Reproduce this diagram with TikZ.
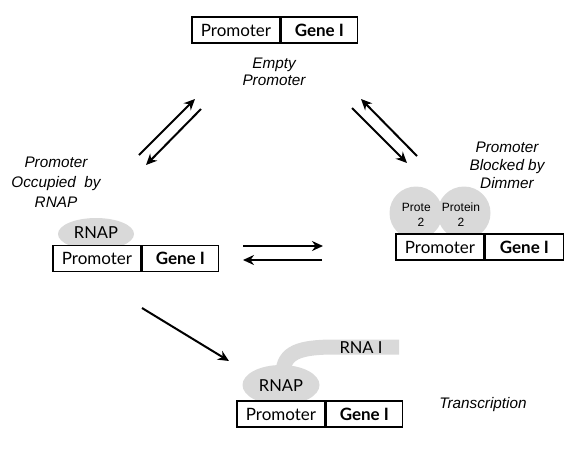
\documentclass[tikz,border=0pt]{standalone}
\usepackage{fontspec}
\setmainfont{Liberation Sans}
\newfontfamily\genefont{Lato}
\usetikzlibrary{arrows.meta,shapes.geometric}
\definecolor{blobgray}{HTML}{D9D9D9}
\begin{document}
\begin{tikzpicture}[x=1pt,y=-1pt,
 prom/.style={draw, fill=white, line width=1.4pt, minimum width=88pt, minimum height=26pt, inner sep=0pt, font=\genefont\fontsize{17}{20}\selectfont},
 gene/.style={prom, minimum width=76pt, font=\genefont\bfseries\fontsize{17}{20}\selectfont},
 lbl/.style={font=\itshape\fontsize{15.3}{17}\selectfont, align=center, inner sep=0pt},
 rnap/.style={ellipse, fill=blobgray, minimum width=76pt, minimum height=32pt, inner sep=0pt},
 rtxt/.style={font=\genefont\fontsize{16.5}{20}\selectfont, inner sep=0pt},
 prot/.style={circle, fill=blobgray, minimum size=53pt, inner sep=0pt},
 prottxt/.style={font=\fontsize{12}{15}\selectfont, align=center, inner sep=0pt},
 arr/.style={-{Stealth[length=11pt,width=10pt]}, line width=2pt},
]
\useasboundingbox (0,0) rectangle (581,448);
% top: empty promoter
\node[prom] (p1) at (236,30) {Promoter};
\node[gene, anchor=west] (g1) at (p1.east) {Gene I};
\node[lbl] (l1) at (274,72) {Empty\\Promoter};
% left: occupied by RNAP
\node[rnap] (r2) at (96,234) {};
\node[prom] (p2) at (97,258.5) {Promoter};
\node[gene, anchor=west] (g2) at (p2.east) {Gene I};
\node[rtxt] (r2t) at (96,233) {RNAP};
\node[lbl, font=\itshape\fontsize{15.3}{20}\selectfont] (l2) at (56,182) {Promoter\\Occupied\ \ by\\RNAP};
% right: blocked by dimer
\node[prot] (c1) at (416,213) {};
\begin{scope}
\clip (380,180) rectangle (430.5,240);
\node[prottxt] (c1t) at (421,215) {Protein\\2};
\end{scope}
\node[prot] (c2) at (464,213) {};
\node[prottxt] (c2t) at (461,215) {Protein\\2};
\node[prom] (p3) at (440,247) {Promoter};
\node[gene, anchor=west, minimum width=78pt] (g3) at (p3.east) {Gene I};
\node[lbl, font=\itshape\fontsize{15.3}{18}\selectfont] (l3) at (507,165) {Promoter\\Blocked by\\Dimmer};
% bottom: transcription
\coordinate (rnas) at (283,374);
\coordinate (rnae) at (399,347);
\draw[blobgray, line width=15pt] (rnas) .. controls (283,352) and (300,347) .. (335,347) -- (rnae);
\node[rtxt] (rnat) at (361,348) {RNA I};
\node[rnap, minimum height=40pt, minimum width=77pt] (r4) at (281,385) {};
\node[rtxt] (r4t) at (281,386) {RNAP};
\node[prom] (p4) at (281,414) {Promoter};
\node[gene, anchor=west] (g4) at (p4.east) {Gene I};
\node[lbl, anchor=base] (l4) at (483,408) {Transcription};
% arrows
\coordinate (a1s) at (139,155); \coordinate (a1e) at (195,99);
\coordinate (a2s) at (201,109); \coordinate (a2e) at (146,165);
\coordinate (a3s) at (352,108); \coordinate (a3e) at (407,163);
\coordinate (a4s) at (417,156); \coordinate (a4e) at (361,99);
\coordinate (a5s) at (243,246); \coordinate (a5e) at (323,246);
\coordinate (a6s) at (322,260); \coordinate (a6e) at (243,260);
\coordinate (a7s) at (142,308); \coordinate (a7e) at (229,361);
\draw[arr] (a1s) -- (a1e);
\draw[arr] (a2s) -- (a2e);
\draw[arr] (a3s) -- (a3e);
\draw[arr] (a4s) -- (a4e);
\draw[arr] (a5s) -- (a5e);
\draw[arr] (a6s) -- (a6e);
\draw[arr] (a7s) -- (a7e);
\end{tikzpicture}
\end{document}
